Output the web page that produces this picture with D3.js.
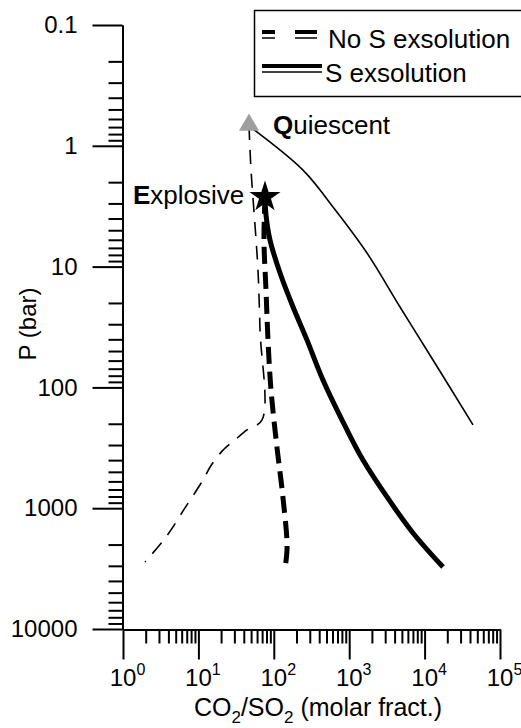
<!DOCTYPE html>
<html>
<head>
<meta charset="utf-8">
<script src="https://cdn.jsdelivr.net/npm/d3@7"></script>
<style>
  html, body { margin: 0; padding: 0; background: #fff; }
  svg { display: block; font-family: "Liberation Sans", Arial, sans-serif; }
</style>
</head>
<body>
<svg id="chart" width="521" height="728"></svg>
<script>
// ---- Data (CO2/SO2 molar fraction vs pressure in bar) ----
const xTickExponents = [0, 1, 2, 3, 4, 5];
const yTickValues = [0.1, 1, 10, 100, 1000, 10000];
const yTickLabels = ["0.1", "1", "10", "100", "1000", "10000"];

// No S exsolution, quiescent (thin dashed)
const noSQuiescentX = [46.9, 49.9, 56.3, 61.7, 65.6, 69.8, 44.1, 30.6, 20.6, 14.3, 11.5, 6.64, 3.72, 1.96];
const noSQuiescentP = [0.686, 1.59, 4.53, 10.7, 33.5, 186, 225, 272, 337, 456, 585, 995, 1730, 2786];

// No S exsolution, explosive (thick dashed)
const noSExplosiveX = [76.4, 74.1, 78.8, 83.8, 91.8, 110, 132, 150, 141];
const noSExplosiveP = [2.65, 6.03, 15.6, 40.6, 105, 311, 807, 2094, 3126];

// S exsolution, quiescent (thin solid)
const sQuiescentX = [46.9, 244, 610, 1722, 4720, 12920, 43850];
const sQuiescentP = [0.686, 1.59, 3.21, 7.72, 21.6, 59.3, 204];

// S exsolution, explosive (thick solid)
const sExplosiveX = [76.4, 78.8, 89.1, 121, 180, 276, 449, 935, 1524, 3171, 7015, 17540];
const sExplosiveP = [2.65, 3.74, 6.03, 11.3, 21.6, 40.6, 86.9, 225, 399, 807, 1603, 3070];

// Start markers
const quiescentPoint = [46.9, 0.686];
const explosivePoint = [76.4, 2.65];

// ---- Chart ----
const svg = d3.select("#chart");
const x = d3.scaleLog().domain([1, 1e5]).range([123, 500]);
const y = d3.scaleLog().domain([0.1, 1e4]).range([25, 629]);
const FONT = "'Liberation Sans', Arial, sans-serif";

function minorTicks(lo, hi) {
  const out = [];
  for (let d = lo; d < hi; d *= 10) {
    for (let k = 2; k <= 9; k++) out.push(+(d * k).toPrecision(6));
  }
  return out;
}

// Y axis: minor ticks
svg.append("g")
  .attr("transform", "translate(122.5,0)")
  .call(d3.axisLeft(y).tickValues(minorTicks(0.1, 1e4)).tickSize(14).tickSizeOuter(0).tickFormat(""))
  .call(g => g.select(".domain").attr("stroke-width", 2))
  .call(g => g.selectAll(".tick line").attr("stroke-width", 2));

// Y axis: major ticks
svg.append("g")
  .attr("transform", "translate(122.5,0)")
  .call(d3.axisLeft(y).tickValues(yTickValues).tickSize(30).tickSizeOuter(0).tickPadding(15)
    .tickFormat((d, i) => yTickLabels[i]))
  .call(g => g.select(".domain").attr("stroke-width", 2))
  .call(g => g.selectAll(".tick line").attr("stroke-width", 2))
  .call(g => g.selectAll(".tick text")
    .attr("font-size", 24).attr("fill", "#000")
    .attr("font-family", FONT));

// X axis: minor ticks
svg.append("g")
  .attr("transform", "translate(0,629.5)")
  .call(d3.axisBottom(x).tickValues(minorTicks(1, 1e5)).tickSize(14).tickSizeOuter(0).tickFormat(""))
  .call(g => g.select(".domain").attr("stroke-width", 2))
  .call(g => g.selectAll(".tick line").attr("stroke-width", 2));

// X axis: major ticks
const xMajor = xTickExponents.map(e => Math.pow(10, e));
const xAxisG = svg.append("g")
  .attr("transform", "translate(0,629.5)")
  .call(d3.axisBottom(x).tickValues(xMajor).tickSize(30).tickSizeOuter(0).tickFormat(""))
  .call(g => g.select(".domain").attr("stroke-width", 2))
  .call(g => g.selectAll(".tick line").attr("stroke-width", 2));

// X tick labels with superscripts
xAxisG.selectAll(".tick").each(function(d, i) {
  const t = d3.select(this).append("text")
    .attr("y", 56)
    .attr("x", 4)
    .attr("text-anchor", "middle")
    .attr("fill", "#000")
    .attr("font-size", 24)
    .attr("font-family", FONT);
  t.append("tspan").text("10");
  t.append("tspan").attr("dy", -11).attr("font-size", 16).text(xTickExponents[i]);
});

// Axis titles
const xTitle = svg.append("text")
  .attr("x", 318).attr("y", 716)
  .attr("text-anchor", "middle")
  .attr("font-size", 25);
xTitle.append("tspan").text("CO");
xTitle.append("tspan").attr("dy", 7).attr("font-size", 17).text("2");
xTitle.append("tspan").attr("dy", -7).text("/SO");
xTitle.append("tspan").attr("dy", 7).attr("font-size", 17).text("2");
xTitle.append("tspan").attr("dy", -7).text(" (molar fract.)");

svg.append("text")
  .attr("transform", "translate(36,324) rotate(-90)")
  .attr("text-anchor", "middle")
  .attr("font-size", 24)
  .text("P (bar)");

// ---- Curves ----
const line = d3.line()
  .x(d => x(d[0])).y(d => y(d[1]))
  .curve(d3.curveCatmullRom.alpha(0.5));

function zip(a, b) { return a.map((v, i) => [v, b[i]]); }

svg.append("path")
  .datum(zip(noSQuiescentX, noSQuiescentP))
  .attr("d", line).attr("fill", "none").attr("stroke", "#000")
  .attr("stroke-width", 1.6).attr("stroke-dasharray", "14,10");

svg.append("path")
  .datum(zip(sQuiescentX, sQuiescentP))
  .attr("d", line).attr("fill", "none").attr("stroke", "#000")
  .attr("stroke-width", 1.6);

svg.append("path")
  .datum(zip(noSExplosiveX, noSExplosiveP))
  .attr("d", line).attr("fill", "none").attr("stroke", "#000")
  .attr("stroke-width", 5).attr("stroke-dasharray", "17,8");

svg.append("path")
  .datum(zip(sExplosiveX, sExplosiveP))
  .attr("d", line).attr("fill", "none").attr("stroke", "#000")
  .attr("stroke-width", 5);

// Markers
svg.append("path")
  .attr("d", d3.symbol().type(d3.symbolTriangle).size(175)())
  .attr("transform", `translate(${x(quiescentPoint[0])},${y(quiescentPoint[1]) - 1})`)
  .attr("fill", "#9e9e9e");

svg.append("path")
  .attr("d", d3.symbol().type(d3.symbolStar).size(300)())
  .attr("transform", `translate(${x(explosivePoint[0])},${y(explosivePoint[1])})`)
  .attr("fill", "#000");

// Point labels
const qLab = svg.append("text").attr("x", 273).attr("y", 134).attr("font-size", 26);
qLab.append("tspan").attr("font-weight", "bold").text("Q");
qLab.append("tspan").text("uiescent");

const eLab = svg.append("text").attr("x", 133).attr("y", 204).attr("font-size", 26);
eLab.append("tspan").attr("font-weight", "bold").text("E");
eLab.append("tspan").text("xplosive");

// ---- Legend ----
const leg = svg.append("g");
leg.append("rect")
  .attr("x", 254.5).attr("y", 10.5).attr("width", 280).attr("height", 86)
  .attr("fill", "#fff").attr("stroke", "#000").attr("stroke-width", 1.5);

const legendItems = [
  { label: "No S exsolution", dash: "13,20,22,100", y: 32, ty: 48 },
  { label: "S exsolution", dash: null, y: 66, ty: 82 }
];
legendItems.forEach(it => {
  const thick = leg.append("line")
    .attr("x1", 262).attr("x2", it.dash ? 317 : 322)
    .attr("y1", it.y).attr("y2", it.y)
    .attr("stroke", "#000").attr("stroke-width", 4);
  const thin = leg.append("line")
    .attr("x1", 262).attr("x2", it.dash ? 317 : 322)
    .attr("y1", it.y + 6).attr("y2", it.y + 6)
    .attr("stroke", "#000").attr("stroke-width", 1.5);
  if (it.dash) { thick.attr("stroke-dasharray", it.dash); thin.attr("stroke-dasharray", it.dash); }
  leg.append("text")
    .attr("x", it.dash ? 328 : 325).attr("y", it.ty)
    .attr("font-size", 26)
    .text(it.label);
});
</script>
</body>
</html>
